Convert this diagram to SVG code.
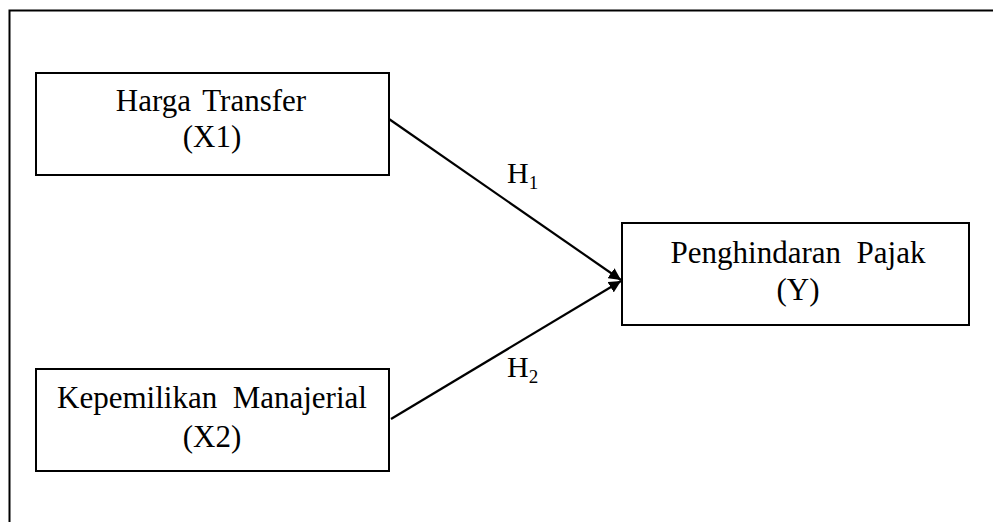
<svg xmlns="http://www.w3.org/2000/svg" width="993" height="522" viewBox="0 0 993 522">
  <style>
    .box { fill: #fff; stroke: #000; stroke-width: 2; }
    .lbl { font-family: "Liberation Serif", "Times New Roman", serif; font-size: 31px; fill: #000; text-anchor: middle; }
    .hyp { font-family: "Liberation Serif", "Times New Roman", serif; font-size: 30px; fill: #000; }
    .sub { font-size: 19px; }
    .edge { stroke: #000; stroke-width: 2.2; fill: none; marker-end: url(#arrow); }
  </style>
  <defs>
    <marker id="arrow" viewBox="0 0 10 10" refX="10" refY="5" markerWidth="5.5" markerHeight="5.5" orient="auto" markerUnits="strokeWidth">
      <path d="M0,0 L10,5 L0,10 Z" fill="#000"/>
    </marker>
  </defs>
  <rect width="993" height="522" fill="#fff"/>
  <!-- outer frame, running past the right and bottom edges -->
  <rect x="9.5" y="10.5" width="1000" height="600" fill="none" stroke="#000" stroke-width="2"/>

  <g id="connectors">
    <line class="edge" x1="389" y1="119" x2="621" y2="280"/>
    <line class="edge" x1="391" y1="419" x2="621" y2="281"/>
    <text class="hyp" x="507" y="183">H<tspan class="sub" dy="6">1</tspan></text>
    <text class="hyp" x="507" y="377">H<tspan class="sub" dy="6">2</tspan></text>
  </g>

  <g id="node-x1">
    <rect class="box" x="36" y="73" width="353" height="102"/>
    <text class="lbl" x="211" y="111" word-spacing="4">Harga Transfer</text>
    <text class="lbl" x="212" y="147">(X1)</text>
  </g>

  <g id="node-x2">
    <rect class="box" x="36" y="369" width="353" height="102"/>
    <text class="lbl" x="212" y="408" xml:space="preserve">Kepemilikan  Manajerial</text>
    <text class="lbl" x="212" y="447">(X2)</text>
  </g>

  <g id="node-y">
    <rect class="box" x="622" y="223" width="347" height="102"/>
    <text class="lbl" x="798" y="263" xml:space="preserve">Penghindaran  Pajak</text>
    <text class="lbl" x="798" y="300">(Y)</text>
  </g>
</svg>
